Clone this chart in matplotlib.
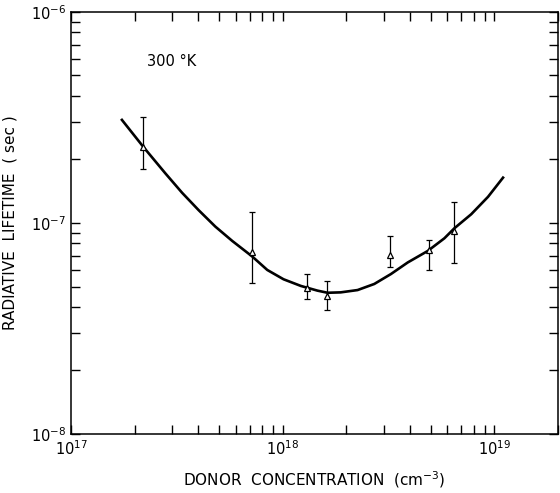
import matplotlib
matplotlib.use('Agg')
import matplotlib.pyplot as plt
from matplotlib.ticker import LogLocator, NullFormatter, FixedLocator

plt.rcParams['font.family'] = 'DejaVu Sans'

# measured points (donor concentration in cm^-3, lifetime in sec)
donor = [2.20e17, 7.2e17, 1.31e18, 1.62e18, 3.21e18, 4.92e18, 6.46e18]
lifetime = [2.29e-7, 7.3e-8, 4.92e-8, 4.51e-8, 7.05e-8, 7.45e-8, 9.16e-8]
err_hi = [3.18e-7, 1.13e-7, 5.73e-8, 5.31e-8, 8.67e-8, 8.3e-8, 1.26e-7]
err_lo = [1.80e-7, 5.2e-8, 4.36e-8, 3.87e-8, 6.18e-8, 5.98e-8, 6.46e-8]

# theoretical curve
curve_x = [1.74e17, 2.20e17, 2.79e17, 3.35e17, 4.01e17, 4.81e17, 5.78e17, 7.18e17,
           8.46e17, 1.01e18, 1.22e18, 1.46e18, 1.63e18, 1.88e18, 2.26e18, 2.71e18,
           3.25e18, 3.90e18, 4.85e18, 5.81e18, 6.48e18, 7.78e18, 9.34e18, 1.10e19]
curve_y = [3.08e-7, 2.29e-7, 1.72e-7, 1.39e-7, 1.15e-7, 9.61e-8, 8.22e-8, 6.94e-8,
           5.99e-8, 5.41e-8, 5.03e-8, 4.78e-8, 4.67e-8, 4.69e-8, 4.81e-8, 5.14e-8,
           5.73e-8, 6.50e-8, 7.37e-8, 8.46e-8, 9.44e-8, 1.10e-7, 1.33e-7, 1.64e-7]

fig = plt.figure(figsize=(5.6, 4.93), dpi=100)
ax = fig.add_axes([0.1268, 0.1197, 0.8696, 0.856])
ax.set_xscale('log')
ax.set_yscale('log')
ax.set_xlim(1e17, 2e19)
ax.set_ylim(1e-8, 1e-6)

ax.plot(curve_x, curve_y, color='black', lw=1.9, solid_joinstyle='round')

yerr = [[v - lo for v, lo in zip(lifetime, err_lo)],
        [hi - v for v, hi in zip(lifetime, err_hi)]]
ax.errorbar(donor, lifetime, yerr=yerr, fmt='none', ecolor='black',
            elinewidth=0.9, capsize=2, capthick=0.9)
ax.plot(donor, lifetime, linestyle='none', marker='^', markersize=5,
        markerfacecolor='white', markeredgecolor='black', markeredgewidth=0.9)

ax.text(2.29e17, 5.8e-7, '300 °K', fontsize=10.5, va='center', ha='left')

ax.xaxis.set_major_locator(FixedLocator([1e17, 1e18, 1e19]))
ax.yaxis.set_major_locator(FixedLocator([1e-8, 1e-7, 1e-6]))
ax.set_xticklabels(['$10^{17}$', '$10^{18}$', '$10^{19}$'])
ax.set_yticklabels(['$10^{-8}$', '$10^{-7}$', '$10^{-6}$'])
ax.xaxis.set_minor_locator(LogLocator(base=10, subs=range(2, 10), numticks=20))
ax.yaxis.set_minor_locator(LogLocator(base=10, subs=range(2, 10), numticks=20))
ax.xaxis.set_minor_formatter(NullFormatter())
ax.yaxis.set_minor_formatter(NullFormatter())

ax.tick_params(which='both', direction='in', top=True, right=True,
               length=6.5, width=1.0, labelsize=10.5)
ax.tick_params(axis='x', pad=4)

for s in ax.spines.values():
    s.set_linewidth(1.1)

ax.set_xlabel('DONOR  CONCENTRATION  (cm$^{-3}$)', fontsize=11, labelpad=8)
ax.set_ylabel('RADIATIVE  LIFETIME  ( sec )', fontsize=11, labelpad=10)

fig.savefig('out.png', dpi=100)
